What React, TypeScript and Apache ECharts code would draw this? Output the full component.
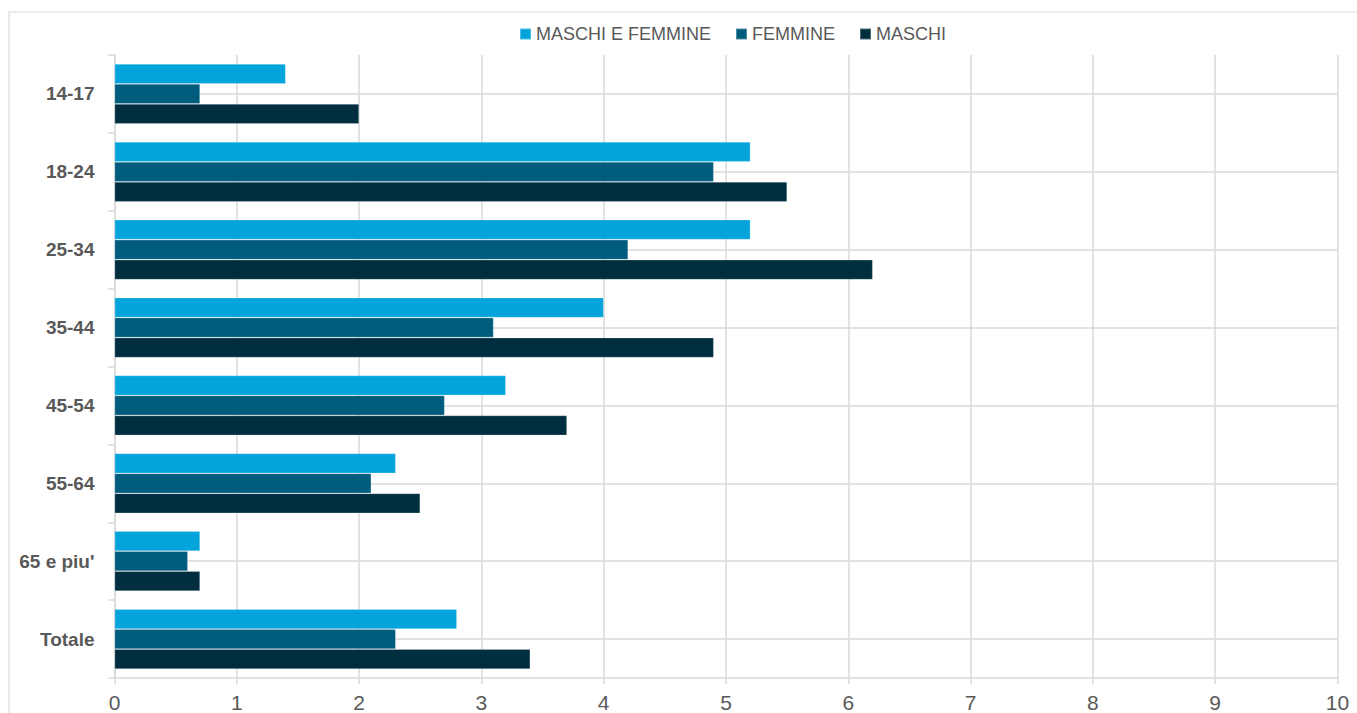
import React, { useEffect, useRef } from "react";
import * as echarts from "echarts";

const categories = ["14-17", "18-24", "25-34", "35-44", "45-54", "55-64", "65 e piu'", "Totale"];
const seriesNames = ["MASCHI E FEMMINE", "FEMMINE", "MASCHI"];
const maschiEFemmine = [1.4, 5.2, 5.2, 4.0, 3.2, 2.3, 0.7, 2.8];
const femmine = [0.7, 4.9, 4.2, 3.1, 2.7, 2.1, 0.6, 2.3];
const maschi = [2.0, 5.5, 6.2, 4.9, 3.7, 2.5, 0.7, 3.4];
const colors = ["#03A3DB", "#005C7C", "#002E3F"];
const xTicks = [0, 10, 1];

const FONT = "'Liberation Sans Narrow', 'Arial Narrow', 'Liberation Sans', Arial, sans-serif";
const GRID_COLOR = "#d9d9d9";
const TEXT_COLOR = "#595959";

export default function App() {
  const ref = useRef<HTMLDivElement>(null);
  useEffect(() => {
    if (!ref.current) return;
    const chart = echarts.init(ref.current, undefined, { renderer: "svg" });
    const values = [maschiEFemmine, femmine, maschi];
    const barSeries = seriesNames.map((name, i) => ({
      name,
      type: "bar",
      data: values[i],
      barGap: "0%",
      barCategoryGap: "23%",
      z: 2,
      itemStyle: { color: colors[i], borderColor: "rgba(255,255,255,0.3)", borderWidth: 0.75 },
      emphasis: { disabled: true },
    }));
    chart.setOption({
      animation: false,
      textStyle: { fontFamily: FONT },
      graphic: [
        {
          type: "rect",
          shape: { x: 9, y: 12, width: 1400, height: 800 },
          style: { fill: "none", stroke: GRID_COLOR, lineWidth: 1.2 },
          silent: true,
          z: -10,
        },
      ],
      legend: {
        data: seriesNames,
        left: 514,
        top: 20,
        icon: "rect",
        itemWidth: 11,
        itemHeight: 11,
        itemGap: 24,
        textStyle: { fontFamily: FONT, fontSize: 18, color: TEXT_COLOR },
        selectedMode: false,
      },
      grid: { left: 114.5, right: 19.5, top: 55, bottom: 34, containLabel: false },
      xAxis: {
        type: "value",
        min: xTicks[0],
        max: xTicks[1],
        interval: xTicks[2],
        axisLine: { show: true, lineStyle: { color: GRID_COLOR, width: 1.5 } },
        axisTick: { show: true, length: 6, lineStyle: { color: GRID_COLOR, width: 1.5 } },
        splitLine: { show: true, lineStyle: { color: GRID_COLOR, width: 1.5 } },
        axisLabel: { fontFamily: FONT, fontSize: 21, color: TEXT_COLOR, margin: 14 },
      },
      yAxis: {
        type: "category",
        data: categories,
        inverse: true,
        axisLine: { show: true, lineStyle: { color: GRID_COLOR, width: 1.5 } },
        axisTick: { show: true, length: 6, lineStyle: { color: GRID_COLOR, width: 1.5 } },
        splitLine: { show: false },
        axisLabel: { fontFamily: FONT, fontSize: 19, fontWeight: "bold", color: TEXT_COLOR, margin: 20 },
      },
      series: [
        {
          name: "grid-lines",
          type: "line",
          data: [],
          silent: true,
          markLine: {
            silent: true,
            z: 1,
            symbol: "none",
            label: { show: false },
            lineStyle: { color: GRID_COLOR, width: 1.5, type: "solid" },
            emphasis: { disabled: true },
            data: categories.map((c) => ({ yAxis: c })),
          },
        },
        ...barSeries,
      ],
    });
    return () => chart.dispose();
  }, []);
  return (
    <div
      ref={ref}
      style={{ position: "fixed", left: 0, top: 0, width: 1357, height: 713, background: "#fff" }}
    />
  );
}
